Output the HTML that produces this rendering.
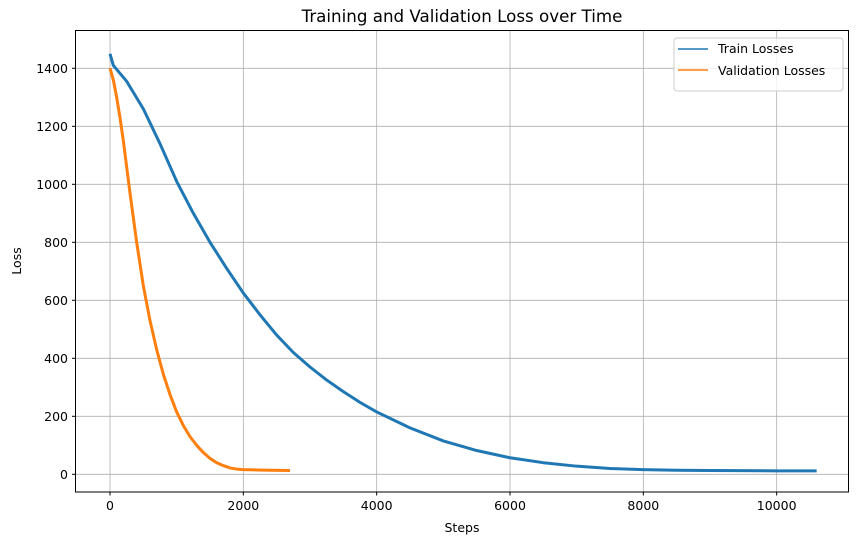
<!DOCTYPE html>
<html><head><meta charset="utf-8"><style>
html,body{margin:0;padding:0;background:#fff;}
svg{display:block;font-family:"DejaVu Sans","Liberation Sans",sans-serif;}
</style></head><body>
<svg id="chart" width="859" height="545">
<text x="462" y="22" text-anchor="middle" font-size="16.7">Training and Validation Loss over Time</text>
<g id="grid"></g>
<g id="series"></g>
<rect x="75.5" y="30.5" width="773" height="461.5" fill="none" stroke="#000" stroke-width="1"/>
<g id="ticks" font-size="12.5"></g>
<text x="462" y="532" text-anchor="middle" font-size="12.5">Steps</text>
<text transform="translate(21,261) rotate(-90)" text-anchor="middle" font-size="12.5">Loss</text>
<g>
<rect x="674" y="38" width="169" height="53" rx="3" fill="#fff" fill-opacity="0.8" stroke="#ccc"/>
<line x1="678" y1="49" x2="708" y2="49" stroke="#1f77b4" stroke-width="1.5"/>
<text x="718" y="53" font-size="12.5">Train Losses</text>
<line x1="678" y1="70" x2="708" y2="70" stroke="#ff7f0e" stroke-width="1.5"/>
<text x="718" y="75" font-size="12.5">Validation Losses</text>
</g>
</svg>
<script>
const xTicks=[0,2000,4000,6000,8000,10000];
const yTicks=[0,200,400,600,800,1000,1200,1400];
const trainSteps=[0,50,250,500,750,1000,1250,1500,1750,2000,2250,2500,2750,3000,3250,3500,3750,4000,4500,5000,5500,6000,6500,7000,7500,8000,8500,9000,10000,10600];
const trainLoss=[1450,1410,1355,1260,1140,1010,900,800,710,625,550,480,420,370,325,285,248,215,160,115,82,57,40,28,20,16,14,13,12,12];
const valSteps=[0,50,100,150,200,250,300,400,500,600,700,800,900,1000,1100,1200,1300,1400,1500,1600,1700,1800,1900,2000,2200,2400,2700];
const valLoss=[1400,1360,1300,1230,1150,1060,970,800,650,530,430,345,275,215,168,130,100,75,55,40,30,22,18,16,15,14,13];
const NS="http://www.w3.org/2000/svg";
const X=v=>110+v*0.066667, Y=v=>474.3-v*0.29;
const grid=document.getElementById('grid'),ticks=document.getElementById('ticks'),ser=document.getElementById('series');
function mk(tag,attrs,parent){const e=document.createElementNS(NS,tag);for(const k in attrs)e.setAttribute(k,attrs[k]);parent.appendChild(e);return e;}
xTicks.forEach(t=>{
  const g=mk('line',{x1:X(t),x2:X(t),y1:30.5,y2:492,stroke:'#b0b0b0','stroke-width':0.8},grid);
  
  
  mk('line',{x1:X(t),x2:X(t),y1:492,y2:495.5,stroke:'#000'},ticks);
  const l=mk('text',{x:X(t),y:510,'text-anchor':'middle'},ticks);l.textContent=t;
  
  
});
yTicks.forEach(t=>{
  const g=mk('line',{x1:75.5,x2:848.5,y1:Y(t),y2:Y(t),stroke:'#b0b0b0','stroke-width':0.8},grid);
  
  
  mk('line',{x1:72,x2:75.5,y1:Y(t),y2:Y(t),stroke:'#000'},ticks);
  const l=mk('text',{x:68,y:Y(t)+4.5,'text-anchor':'end'},ticks);l.textContent=t;
  
  
});
function line(xs,ys,color,w){
  return mk('polyline',{points:xs.map((s,i)=>X(s)+','+Y(ys[i])).join(' '),fill:'none',stroke:color,'stroke-width':w,'stroke-linejoin':'round'},ser);
}
const tl=line(trainSteps,trainLoss,'#1f77b4',3);


const vl=line(valSteps,valLoss,'#ff7f0e',3);


</script>
</body></html>
